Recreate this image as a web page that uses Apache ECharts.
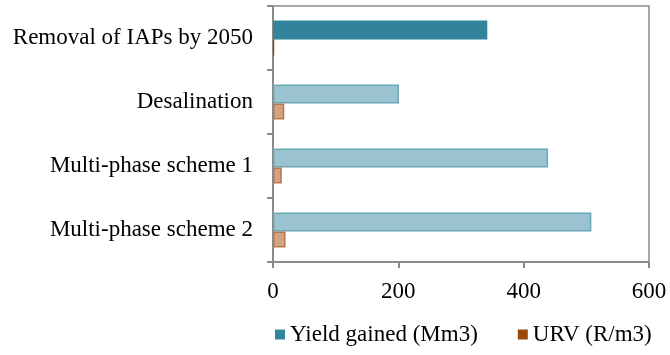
<!DOCTYPE html>
<html>
<head>
<meta charset="utf-8">
<script src="https://cdn.jsdelivr.net/npm/echarts@6/dist/echarts.min.js"></script>
<style>
  html, body { margin: 0; padding: 0; background: #fff; }
  #chart { width: 670px; height: 355px; }
</style>
</head>
<body>
<div id="chart"></div>
<script>
// Options compared: water yield gained and unit reference value
const categories = ['Removal of IAPs by 2050', 'Desalination', 'Multi-phase scheme 1', 'Multi-phase scheme 2'];
const yieldGained = [342, 201, 439, 508];   // Mm3
const urv = [2, 18, 14, 20];                // R/m3
const xTicks = [0, 200, 400, 600];

// first option is highlighted in full colour, the others in muted tones
const strong = { yield: '#31849b', urv: '#984807' };
const muted = {
  yield: { color: '#9ac3cf', borderColor: '#6aa8b9' },
  urv: { color: '#d3a283', borderColor: '#b5784d' }
};

function styled(values, key) {
  return values.map((v, i) => ({
    value: v,
    itemStyle: i === 0
      ? { color: strong[key], borderWidth: 0 }
      : { color: muted[key].color, borderColor: muted[key].borderColor, borderWidth: 1.5 }
  }));
}

const axisGray = '#8a8a8a';
const font = '"Liberation Serif", "Times New Roman", serif';
const fontSize = 23;

const chart = echarts.init(document.getElementById('chart'));
chart.setOption({
  animation: false,
  textStyle: { fontFamily: font },
  grid: {
    left: 273, right: 21, top: 6, bottom: 93,
    show: true, borderColor: axisGray, borderWidth: 1.5,
    containLabel: false
  },
  legend: {
    left: 270, top: 318,
    itemWidth: 10, itemHeight: 10, itemGap: 40,
    icon: 'rect',
    textStyle: { fontFamily: font, fontSize: fontSize, color: '#000', padding: [4, 0, 0, 0] },
    data: [
      { name: 'Yield gained (Mm3)', itemStyle: { color: strong.yield } },
      { name: 'URV (R/m3)', itemStyle: { color: strong.urv } }
    ]
  },
  xAxis: {
    type: 'value', min: xTicks[0], max: xTicks[xTicks.length - 1], interval: 200,
    axisLine: { show: true, lineStyle: { color: axisGray, width: 2 } },
    axisTick: { show: true, length: 6, lineStyle: { color: axisGray, width: 2 } },
    splitLine: { show: false },
    axisLabel: { fontFamily: font, fontSize: fontSize, color: '#000', margin: 18 }
  },
  yAxis: {
    type: 'category', data: categories, inverse: true,
    axisLine: { show: true, lineStyle: { color: axisGray, width: 2 } },
    axisTick: { show: true, length: 6, lineStyle: { color: axisGray, width: 2 } },
    axisLabel: { fontFamily: font, fontSize: fontSize, color: '#000', margin: 20 }
  },
  series: [
    {
      name: 'Yield gained (Mm3)', type: 'bar',
      data: styled(yieldGained, 'yield'),
      barWidth: 19, barGap: '0%'
    },
    {
      name: 'URV (R/m3)', type: 'bar',
      data: styled(urv, 'urv'),
      barWidth: 16, barGap: '0%'
    }
  ]
});
</script>
</body>
</html>
